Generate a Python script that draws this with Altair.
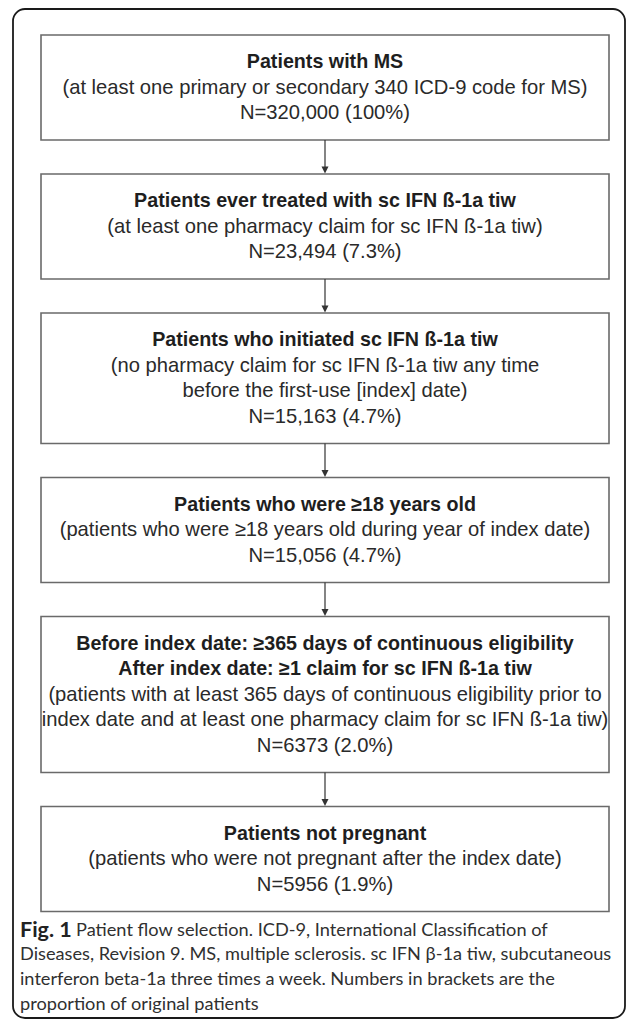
import altair as alt
import pandas as pd

# ---------------- data ----------------
titles = [
    ["Patients with MS"],
    ["Patients ever treated with sc IFN ß-1a tiw"],
    ["Patients who initiated sc IFN ß-1a tiw"],
    ["Patients who were ≥18 years old"],
    ["Before index date: ≥365 days of continuous eligibility",
     "After index date: ≥1 claim for sc IFN ß-1a tiw"],
    ["Patients not pregnant"],
]
details = [
    ["(at least one primary or secondary 340 ICD-9 code for MS)"],
    ["(at least one pharmacy claim for sc IFN ß-1a tiw)"],
    ["(no pharmacy claim for sc IFN ß-1a tiw any time",
     "before the first-use [index] date)"],
    ["(patients who were ≥18 years old during year of index date)"],
    ["(patients with at least 365 days of continuous eligibility prior to",
     "index date and at least one pharmacy claim for sc IFN ß-1a tiw)"],
    ["(patients who were not pregnant after the index date)"],
]
counts = ["320,000", "23,494", "15,163", "15,056", "6373", "5956"]
shares = ["100%", "7.3%", "4.7%", "4.7%", "2.0%", "1.9%"]

caption_lead = "Fig. 1"
caption_lines = [
    "Patient flow selection. ICD-9, International Classification of",
    "Diseases, Revision 9. MS, multiple sclerosis. sc IFN β-1a tiw, subcutaneous",
    "interferon beta-1a three times a week. Numbers in brackets are the",
    "proportion of original patients",
]

# ---------------- layout (computed) ----------------
W, H = 618, 1011
TOP, LINE, PAD_T, PAD_B, GAP = 27, 25.5, 27, 27, 34
BOX_L, BOX_R = 33, 601
CX = (BOX_L + BOX_R) / 2

boxes, bold_rows, norm_rows, arrow_rows, head_rows = [], [], [], [], []
y = TOP
for i, (t, d, c, s) in enumerate(zip(titles, details, counts, shares)):
    lines = [(l, True) for l in t] + [(l, False) for l in d] + [(f"N={c} ({s})", False)]
    n = len(lines)
    h = (n - 1) * LINE + PAD_T + PAD_B
    boxes.append(dict(x=BOX_L, x2=BOX_R, y=y, y2=y + h))
    for k, (l, b) in enumerate(lines):
        (bold_rows if b else norm_rows).append(dict(x=CX, y=y + PAD_T + k * LINE, text=l))
    if i < len(titles) - 1:
        arrow_rows.append(dict(x=CX, y=y + h, y2=y + h + GAP - 6))
        head_rows.append(dict(x=CX, y=y + h + GAP - 4))
    y += h + GAP

last_bottom = boxes[-1]["y2"]
CAP_Y0, CAP_STEP, CAP_X = last_bottom + 19, 24.8, 12
LEAD_W = 56
cap_rows = []
for k, l in enumerate(caption_lines):
    cap_rows.append(dict(x=CAP_X + (LEAD_W if k == 0 else 0), y=CAP_Y0 + k * CAP_STEP, text=l))
lead_rows = [dict(x=CAP_X, y=CAP_Y0, text=caption_lead)]
frame_rows = [dict(x=5, x2=617, y=1, y2=1010)]

xs = alt.Scale(domain=[0, W])
ys = alt.Scale(domain=[0, H], reverse=True)
X = lambda f="x": alt.X(f"{f}:Q", scale=xs, axis=None)
Y = lambda f="y": alt.Y(f"{f}:Q", scale=ys, axis=None)

frame = alt.Chart(pd.DataFrame(frame_rows)).mark_rect(
    filled=False, stroke="#1a1a1a", strokeWidth=1.8, cornerRadius=12
).encode(x=X(), x2="x2:Q", y=Y(), y2="y2:Q")

box_layer = alt.Chart(pd.DataFrame(boxes)).mark_rect(
    fill="white", stroke="#6a6a6a", strokeWidth=1.6
).encode(x=X(), x2="x2:Q", y=Y(), y2="y2:Q")

arrow_layer = alt.Chart(pd.DataFrame(arrow_rows)).mark_rule(
    color="#333333", strokeWidth=1.2
).encode(x=X(), y=Y(), y2="y2:Q")

head_layer = alt.Chart(pd.DataFrame(head_rows)).mark_point(
    shape="M-1,-1L1,-1L0,1Z", filled=True, size=49, color="#333333", opacity=1
).encode(x=X(), y=Y())

bold_layer = alt.Chart(pd.DataFrame(bold_rows)).mark_text(
    font="Liberation Sans", fontSize=19.7, fontWeight="bold", color="#1e1e1e",
    align="center", baseline="middle"
).encode(x=X(), y=Y(), text="text:N")

norm_layer = alt.Chart(pd.DataFrame(norm_rows)).mark_text(
    font="Liberation Sans", fontSize=20.2, color="#2a2a2a",
    align="center", baseline="middle"
).encode(x=X(), y=Y(), text="text:N")

lead_layer = alt.Chart(pd.DataFrame(lead_rows)).mark_text(
    font="Lato", fontSize=21.5, fontWeight="bold", color="#222222",
    align="left", baseline="middle"
).encode(x=X(), y=Y(), text="text:N")

cap_layer = alt.Chart(pd.DataFrame(cap_rows)).mark_text(
    font="Lato", fontSize=18.2, fontWeight="normal", color="#303030",
    align="left", baseline="middle"
).encode(x=X(), y=Y(), text="text:N")

chart = alt.layer(
    frame, box_layer, arrow_layer, head_layer, bold_layer, norm_layer, lead_layer, cap_layer
).properties(
    width=W, height=H, padding=0, autosize=alt.AutoSizeParams(type="none")
).configure_view(strokeWidth=0)

chart.save("out.html", embed_options={"renderer": "svg", "actions": False})
